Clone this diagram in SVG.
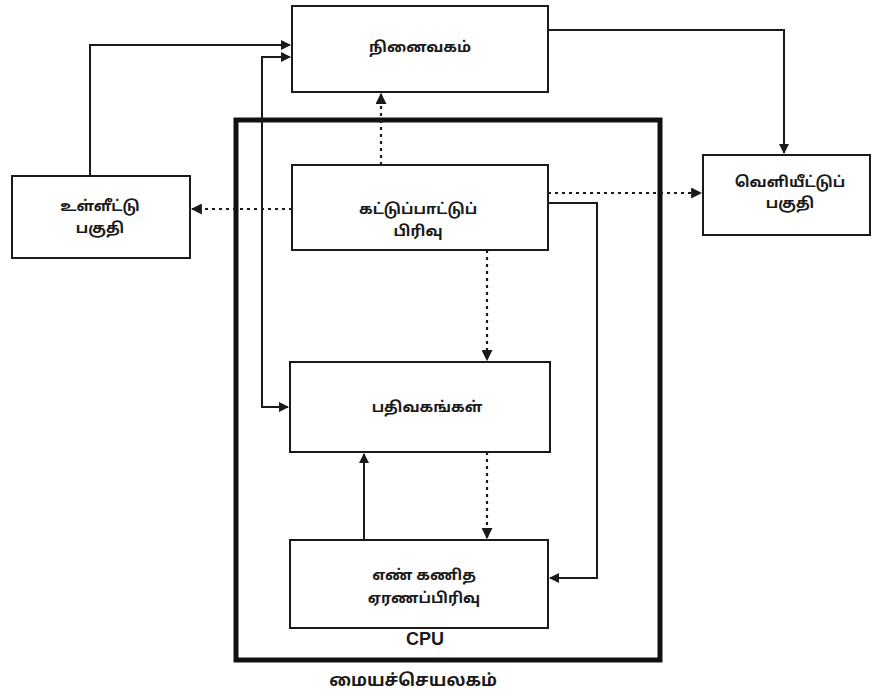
<svg xmlns="http://www.w3.org/2000/svg" width="874" height="696" viewBox="0 0 874 696">
<style>
.box{fill:#fff;stroke:#1a1a1a;stroke-width:2}
.cpu{fill:none;stroke:#111;stroke-width:5}
.t{font-family:"Noto Sans Tamil","Lohit Tamil","Noto Sans","DejaVu Sans",sans-serif;font-size:15px;font-weight:bold;fill:#1a1a1a;text-anchor:middle}
.c{fill:none;stroke:#1a1a1a;stroke-width:2}
.d{fill:none;stroke:#1a1a1a;stroke-width:2.2;stroke-dasharray:3 4}
</style>
<defs>
<marker id="a" viewBox="0 0 10 10" refX="9" refY="5" markerWidth="5" markerHeight="5" orient="auto-start-reverse" markerUnits="strokeWidth">
<path d="M0,0 L10,5 L0,10 z" fill="#1a1a1a"/>
</marker>
</defs>
<rect width="874" height="696" fill="#fff"/>
<g id="cpu">
<rect class="cpu" x="236" y="120" width="424" height="540"/>
<text x="425" y="645" font-family="Liberation Sans, Arial, sans-serif" font-size="18" font-weight="bold" text-anchor="middle" fill="#1a1a1a">CPU</text>
<text class="t" x="413" y="686" style="font-size:17px">மையச்செயலகம்</text>
</g>
<g id="connectors">
<polyline class="c" points="90,176 90,45 290,45" marker-end="url(#a)"/>
<polyline class="c" points="288,407 262,407 262,57 290,57" marker-start="url(#a)" marker-end="url(#a)"/>
<polyline class="c" points="548,30 784,30 784,153" marker-end="url(#a)"/>
<polyline class="c" points="548,203 597,203 597,578 550,578" marker-end="url(#a)"/>
<polyline class="c" points="364,540 364,454" marker-end="url(#a)"/>
<polyline class="d" points="381,165 381,94" marker-end="url(#a)"/>
<polyline class="d" points="292,209 192,209" marker-end="url(#a)"/>
<polyline class="d" points="548,193 701,193" marker-end="url(#a)"/>
<polyline class="d" points="487,250 487,360" marker-end="url(#a)"/>
<polyline class="d" points="487,452 487,538" marker-end="url(#a)"/>
</g>
<g id="memory">
<rect class="box" x="292" y="6" width="256" height="86"/>
<text class="t" x="420" y="52">நினைவகம்</text>
</g>
<g id="input">
<rect class="box" x="12" y="176" width="178" height="82"/>
<text class="t" x="100" y="211">உள்ளீட்டு</text>
<text class="t" x="100" y="233">பகுதி</text>
</g>
<g id="control">
<rect class="box" x="292" y="165" width="256" height="85"/>
<text class="t" x="418" y="214">கட்டுப்பாட்டுப்</text>
<text class="t" x="418" y="236">பிரிவு</text>
</g>
<g id="output">
<rect class="box" x="703" y="155" width="167" height="80"/>
<text class="t" x="790" y="187">வெளியீட்டுப்</text>
<text class="t" x="790" y="208">பகுதி</text>
</g>
<g id="registers">
<rect class="box" x="290" y="362" width="260" height="90"/>
<text class="t" x="427" y="412">பதிவகங்கள்</text>
</g>
<g id="alu">
<rect class="box" x="290" y="540" width="258" height="88"/>
<text class="t" x="424" y="580">எண் கணித</text>
<text class="t" x="424" y="603">ஏரணப்பிரிவு</text>
</g>
</svg>
